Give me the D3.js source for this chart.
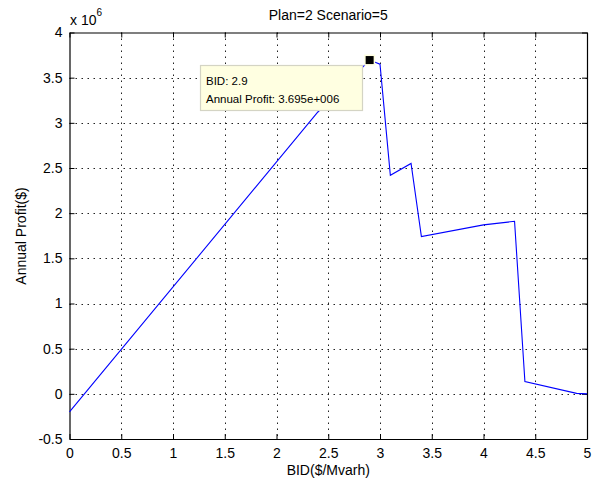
<!DOCTYPE html>
<html>
<head>
<meta charset="utf-8">
<script src="https://cdn.jsdelivr.net/npm/d3@7"></script>
<style>
  body { margin: 0; background: #fff; }
  text { font-family: "Liberation Sans", Arial, sans-serif; }
</style>
</head>
<body>
<svg width="603" height="485"></svg>
<script>
// BID values and annual profit (x 10^6)
const bids    = [0, 2.4, 2.9, 3.0, 3.1, 3.3, 3.4, 4.0, 4.3, 4.4, 4.9, 5.0]
const profits = [-0.2, 3.12, 3.695, 3.65, 2.42, 2.55, 1.74, 1.87, 1.91, 0.135, 0.005, 0.0]
const xTicks = [0, 0.5, 1, 1.5, 2, 2.5, 3, 3.5, 4, 4.5, 5]
const yTicks = [-0.5, 0, 0.5, 1, 1.5, 2, 2.5, 3, 3.5, 4]
const tipBid = 2.9
const tipProfit = 3.695

let svg = d3.select('svg')
let m = { left: 69.5, right: 587, top: 32.5, bottom: 439 }

let x = d3.scaleLinear().domain([0, 5]).range([m.left, m.right])
let y = d3.scaleLinear().domain([-0.5, 4]).range([m.bottom, m.top])

// grid
let grid = svg.append('g')
grid.selectAll('.gx').data(xTicks.slice(1, -1)).enter().append('line')
    .attr('x1', d => Math.round(x(d)) + 0.5).attr('x2', d => Math.round(x(d)) + 0.5)
    .attr('y1', m.top).attr('y2', m.bottom)
    .attr('stroke', '#222').attr('stroke-width', 1).attr('stroke-dasharray', '1.5,4.5')
grid.selectAll('.gy').data(yTicks.slice(1, -1)).enter().append('line')
    .attr('y1', d => Math.round(y(d)) + 0.5).attr('y2', d => Math.round(y(d)) + 0.5)
    .attr('x1', m.left).attr('x2', m.right)
    .attr('stroke', '#222').attr('stroke-width', 1).attr('stroke-dasharray', '1.5,4.5')

// axes (ticks inward, on all sides)
let fmt = d => String(d)
svg.append('g').attr('transform', `translate(0,${m.bottom})`)
    .call(d3.axisBottom(x).tickValues(xTicks).tickSizeInner(-5).tickSizeOuter(0).tickPadding(9).tickFormat(fmt))
svg.append('g').attr('transform', `translate(0,${m.top})`)
    .call(d3.axisTop(x).tickValues(xTicks).tickSizeInner(-5).tickSizeOuter(0).tickFormat(''))
svg.append('g').attr('transform', `translate(${m.left},0)`)
    .call(d3.axisLeft(y).tickValues(yTicks).tickSizeInner(-5).tickSizeOuter(0).tickPadding(7).tickFormat(fmt))
svg.append('g').attr('transform', `translate(${m.right},0)`)
    .call(d3.axisRight(y).tickValues(yTicks).tickSizeInner(-5).tickSizeOuter(0).tickFormat(''))

svg.selectAll('.domain').attr('stroke', '#000').attr('stroke-width', 1.2)
svg.selectAll('.tick line').attr('stroke', '#000')
svg.selectAll('.tick text').attr('font-size', 14).attr('fill', '#000')
    .style('font-family', '"Liberation Sans", Arial, sans-serif')

// line
let pts = bids.map((b, i) => [b, profits[i]])
svg.append('path')
    .datum(pts)
    .attr('fill', 'none')
    .attr('stroke', '#0000ff')
    .attr('stroke-width', 1.1)
    .attr('d', d3.line().x(d => x(d[0])).y(d => y(d[1])))

// data tip
let tx = x(tipBid), ty = y(tipProfit)
svg.append('rect')
    .attr('x', tx - 5.5).attr('y', ty - 5.5).attr('width', 11).attr('height', 11)
    .attr('fill', '#ffffe1')
svg.append('rect')
    .attr('x', tx - 4).attr('y', ty - 4).attr('width', 8).attr('height', 8)
    .attr('fill', '#000')

svg.append('rect')
    .attr('x', 200.5).attr('y', 65.5).attr('width', 162).attr('height', 45)
    .attr('fill', '#ffffe1').attr('stroke', '#d4d4c4').attr('stroke-width', 1.2)
svg.append('text').attr('x', 206).attr('y', 85).attr('font-size', 11.5)
    .text('BID: ' + tipBid)
svg.append('text').attr('x', 206).attr('y', 103).attr('font-size', 11.5)
    .text('Annual Profit: ' + d3.format('.3e')(tipProfit * 1e6).replace('e+6', 'e+006'))

// labels
svg.append('text').attr('x', (m.left + m.right) / 2).attr('y', 20)
    .attr('text-anchor', 'middle').attr('font-size', 14).text('Plan=2 Scenario=5')
svg.append('text').attr('x', (m.left + m.right) / 2).attr('y', 475)
    .attr('text-anchor', 'middle').attr('font-size', 14).text('BID($/Mvarh)')
svg.append('text')
    .attr('transform', 'translate(26,236) rotate(-90)')
    .attr('text-anchor', 'middle').attr('font-size', 14).text('Annual Profit($)')

let ex = svg.append('text').attr('x', 70).attr('y', 25).attr('font-size', 14)
ex.append('tspan').text('x 10')
ex.append('tspan').attr('dy', -9).attr('font-size', 10).text('6')
</script>
</body>
</html>
